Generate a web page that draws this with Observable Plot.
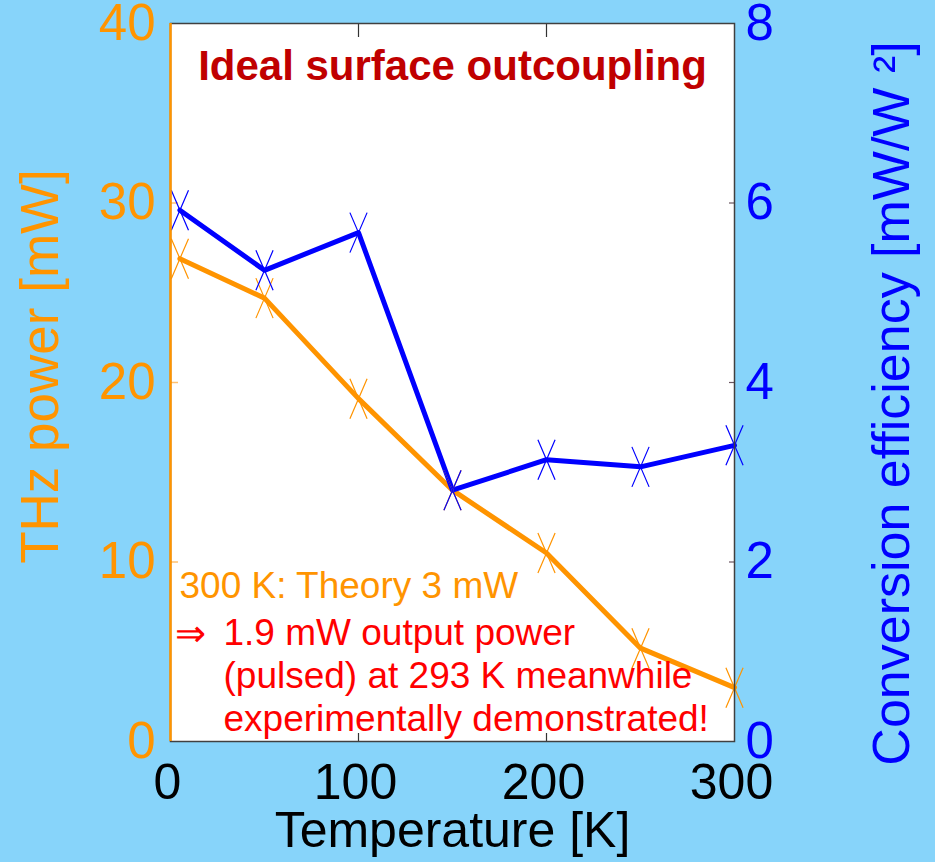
<!DOCTYPE html>
<html>
<head>
<meta charset="utf-8">
<script src="https://cdn.jsdelivr.net/npm/d3@7"></script>
<script src="https://cdn.jsdelivr.net/npm/@observablehq/plot@0.6"></script>
<style>
  html, body { margin: 0; padding: 0; background: #87d4fa; }
  #chart svg { display: block; }
</style>
</head>
<body>
<div id="chart"></div>
<script>
// Measured THz output vs. heat-sink temperature
const temperatures = [5, 50, 100, 150, 200, 250, 300];          // K
const thzPower     = [26.9, 24.7, 19.1, 14.0, 10.5, 5.2, 3.0];    // mW
const efficiency   = [5.92, 5.25, 5.67, 2.80, 3.14, 3.06, 3.30];  // mW/W^2

const xTicks = [0, 100, 200, 300];
const powerTicks = [0, 10, 20, 30, 40];
const efficiencyTicks = [0, 2, 4, 6, 8];

const chartTitle = "Ideal surface outcoupling";
const theoryNote = "300 K: Theory 3 mW";
const resultLines = [
  "1.9 mW output power",
  "(pulsed) at 293 K meanwhile",
  "experimentally demonstrated!"
];

const orange = "#ff9400";
const blue = "#0000ff";
const font = "'Liberation Sans', Arial, sans-serif";

// both series share one y scale: efficiency is stretched onto the power range
const ratio = powerTicks[powerTicks.length - 1] / efficiencyTicks[efficiencyTicks.length - 1];

const rows = temperatures.map((t, i) => ({t, power: thzPower[i], eff: efficiency[i]}));

const W = 935, H = 862;
const margin = {top: 23, right: 201, bottom: 121, left: 170};
const innerW = W - margin.left - margin.right;
const innerH = H - margin.top - margin.bottom;

// tall, narrow cross marker
const tallCross = {
  draw(context, size) {
    const h = Math.sqrt(size / Math.PI);
    const w = h * 0.43;
    context.moveTo(-w, -h); context.lineTo(w, h);
    context.moveTo(w, -h); context.lineTo(-w, h);
  }
};

const chart = Plot.plot({
  width: W,
  height: H,
  marginTop: margin.top,
  marginRight: margin.right,
  marginBottom: margin.bottom,
  marginLeft: margin.left,
  style: {background: "#87d4fa", fontFamily: font, overflow: "visible"},
  x: {domain: [0, 300]},
  y: {domain: [0, 40]},
  marks: [
    Plot.frame({fill: "white", stroke: "none"}),

    // inward ticks
    Plot.tickX(xTicks.slice(1, -1), {x: d => d, stroke: "#333", strokeWidth: 1.2, insetTop: innerH - 8}),
    Plot.tickX(xTicks.slice(1, -1), {x: d => d, stroke: "#333", strokeWidth: 1.2, insetBottom: innerH - 14}),
    Plot.tickY(powerTicks.slice(1, -1), {y: d => d, stroke: "#ffc070", strokeWidth: 1.5, insetRight: innerW - 8}),
    Plot.tickY(efficiencyTicks.slice(1, -1), {y: d => d * ratio, stroke: "#6a5560", strokeWidth: 1.2, insetLeft: innerW - 5}),

    // series
    Plot.line(rows, {x: "t", y: "power", stroke: orange, strokeWidth: 5}),
    Plot.line(rows, {x: "t", y: d => d.eff * ratio, stroke: blue, strokeWidth: 5}),
    Plot.dot(rows, {x: "t", y: "power", symbol: tallCross, r: 20, fill: "none", stroke: orange, strokeWidth: 1.2}),
    Plot.dot(rows, {x: "t", y: d => d.eff * ratio, symbol: tallCross, r: 20, fill: "none", stroke: blue, strokeWidth: 1.2}),

    // plot box
    Plot.frame({stroke: "#404040", strokeWidth: 1.5}),
    Plot.ruleX([0], {stroke: orange, strokeWidth: 2.5}),

    // axes
    Plot.axisX({ticks: xTicks, tickSize: 0, tickPadding: 22, dx: -3, fontSize: 50, color: "black", label: null}),
    Plot.axisY({anchor: "left", ticks: powerTicks, tickSize: 0, tickPadding: 15, fontSize: 51, color: orange, fill: orange, label: null}),
    Plot.axisY({anchor: "right", ticks: efficiencyTicks.map(v => v * ratio), tickFormat: d => d / ratio,
                tickSize: 0, tickPadding: 11, fontSize: 51, color: blue, fill: blue, label: null}),

    // axis titles
    Plot.text(["Temperature [K]"], {frameAnchor: "bottom", dy: 89, textAnchor: "middle", lineAnchor: "middle", fontSize: 50, fill: "black"}),
    Plot.text(["THz power [mW]"], {frameAnchor: "left", dx: -129, dy: -16, rotate: -90, textAnchor: "middle", lineAnchor: "middle", fontSize: 53, fill: orange}),
    Plot.text(["Conversion efficiency [mW/W \u00b2]"], {frameAnchor: "right", dx: 158, dy: 21, rotate: -90, textAnchor: "middle", lineAnchor: "middle", fontSize: 52, fill: blue}),

    // annotations
    Plot.text([chartTitle], {frameAnchor: "top", dy: 56, textAnchor: "middle", lineAnchor: "bottom", fontSize: 42, fontWeight: "bold", fill: "#c00000"}),
    Plot.text([theoryNote], {frameAnchor: "top-left", dx: 9, dy: 574, textAnchor: "start", lineAnchor: "bottom", fontSize: 37, fill: orange}),
    Plot.text(["\u21d2"], {frameAnchor: "top-left", dx: 4, dy: 622, textAnchor: "start", lineAnchor: "bottom", fontSize: 37, fill: "#ff0000"}),
    Plot.text([resultLines.join("\n")], {frameAnchor: "top-left", dx: 53, dy: 707, textAnchor: "start", lineAnchor: "bottom", lineHeight: 1.15, fontSize: 37, fill: "#ff0000"})
  ]
});

document.getElementById("chart").append(chart);
</script>
</body>
</html>
